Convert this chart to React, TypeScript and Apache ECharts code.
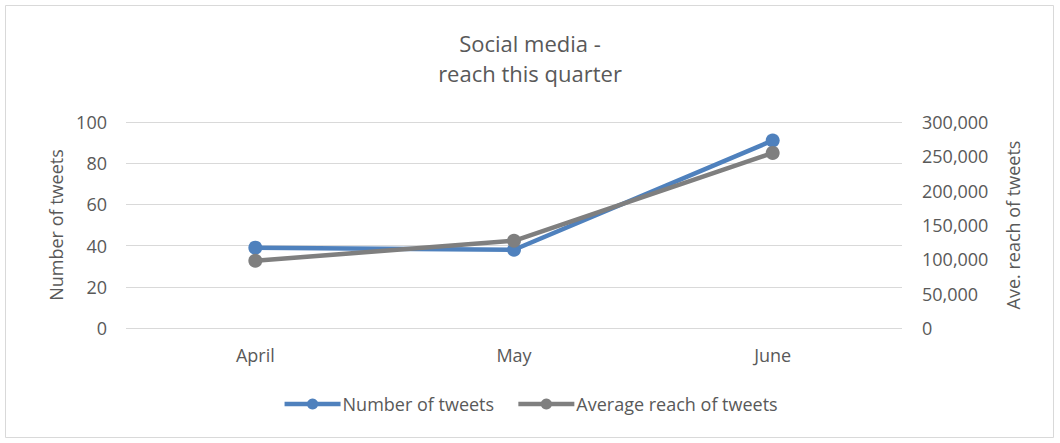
import React, { useEffect, useRef } from "react";
import * as echarts from "echarts";

const months = ["April", "May", "June"];
const tweets = [39, 38, 91];
const avgReach = [98000, 127000, 255000];
const leftTicks = { min: 0, max: 100, interval: 20 };
const rightTicks = { min: 0, max: 300000, interval: 50000 };

const FONT = "'Open Sans', 'Noto Sans', sans-serif";
const TXT = "#595959";

export default function App() {
  const ref = useRef<HTMLDivElement>(null);
  useEffect(() => {
    const chart = echarts.init(ref.current!, null, { renderer: "svg" });
    chart.setOption({
      animation: false,
      backgroundColor: "#ffffff",
      textStyle: { fontFamily: FONT },
      title: {
        text: "Social media -\nreach this quarter",
        left: "center",
        top: 23,
        textStyle: { fontFamily: FONT, fontSize: 22, fontWeight: "normal", color: TXT, lineHeight: 30 },
      },
      graphic: [
        {
          type: "rect",
          shape: { x: 5.5, y: 5.5, width: 1048, height: 432 },
          style: { fill: "none", stroke: "#d9d9d9", lineWidth: 1 },
          silent: true,
        },
      ],
      legend: {
        bottom: 25,
        left: "center",
        itemWidth: 56,
        itemHeight: 14,
        itemGap: 22,
        lineStyle: { width: 4.5 },
        textStyle: { fontFamily: FONT, fontSize: 18, color: TXT, padding: [0, 0, 0, -3] },
        data: ["Number of tweets", "Average reach of tweets"],
      },
      grid: { left: 126, right: 158, top: 122, bottom: 115, containLabel: false },
      xAxis: {
        type: "category",
        data: months,
        boundaryGap: true,
        axisLine: { show: false },
        axisTick: { show: false },
        axisLabel: { fontFamily: FONT, fontSize: 18, color: TXT, margin: 18 },
      },
      yAxis: [
        {
          type: "value",
          ...leftTicks,
          name: "Number of tweets",
          nameLocation: "middle",
          nameGap: 58,
          nameTextStyle: { fontFamily: FONT, fontSize: 18, color: TXT },
          axisLine: { show: false },
          axisTick: { show: false },
          axisLabel: { fontFamily: FONT, fontSize: 18, color: TXT, margin: 19 },
          splitLine: { lineStyle: { color: "#d9d9d9", width: 1 } },
        },
        {
          type: "value",
          ...rightTicks,
          name: "Ave. reach of tweets",
          nameLocation: "middle",
          nameGap: 102,
          nameRotate: 90,
          nameTextStyle: { fontFamily: FONT, fontSize: 18, color: TXT },
          axisLine: { show: false },
          axisTick: { show: false },
          splitLine: { show: false },
          axisLabel: {
            fontFamily: FONT,
            fontSize: 18,
            color: TXT,
            margin: 20,
            formatter: (v: number) => v.toLocaleString("en-US"),
          },
        },
      ],
      series: [
        {
          name: "Number of tweets",
          type: "line",
          yAxisIndex: 0,
          data: tweets,
          symbol: "circle",
          symbolSize: 14,
          lineStyle: { width: 4.5, color: "#4f81bd" },
          itemStyle: { color: "#4f81bd" },
        },
        {
          name: "Average reach of tweets",
          type: "line",
          yAxisIndex: 1,
          data: avgReach,
          symbol: "circle",
          symbolSize: 14,
          lineStyle: { width: 4.5, color: "#7f7f7f" },
          itemStyle: { color: "#7f7f7f" },
        },
      ],
    });
    return () => chart.dispose();
  }, []);
  return (
    <div
      ref={ref}
      style={{ position: "absolute", left: 0, top: 0, width: 1060, height: 443 }}
    />
  );
}
